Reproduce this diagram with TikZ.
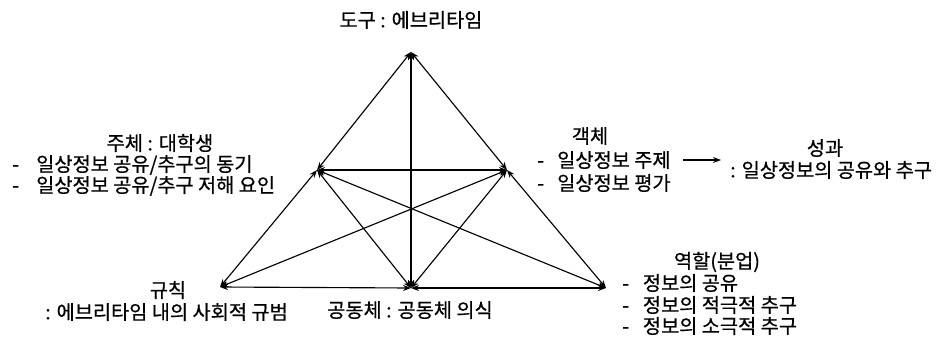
\documentclass[tikz,border=0pt]{standalone}
\usepackage{fontspec}
\setmainfont{Noto Sans CJK KR}[FakeBold=0.6]
\usetikzlibrary{arrows.meta}
\tikzset{
  lbl/.style={inner sep=0pt, font=\fontsize{14.8}{17}\selectfont},
  link/.style={{Stealth[length=6pt,width=4.5pt]}-{Stealth[length=6pt,width=4.5pt]}, line width=0.85pt},
  oneway/.style={-{Stealth[length=6pt,width=4.5pt]}, line width=0.85pt}
}
\newcommand{\dl}[2]{\makebox[#1][l]{-}#2}
\begin{document}
\begin{tikzpicture}[x=0.75pt,y=-0.75pt]
\useasboundingbox (0,0) rectangle (938,336);
% vertices
\coordinate (T) at (411,52);
\coordinate (S) at (317,170);
\coordinate (O) at (507,170);
\coordinate (R) at (220,287);
\coordinate (C) at (411,288);
\coordinate (D) at (606,288);
% connectors
\draw[link] (S) -- (T);
\draw[link] (O) -- (T);
\draw[link] (C) -- (T);
\draw[link] (S) -- (O);
\draw[link] (S) -- (R);
\draw[link] (S) -- (C);
\draw[link] (S) -- (D);
\draw[link] (O) -- (C);
\draw[link] (O) -- (D);
\draw[link] (O) -- (R);
\draw[link] (R) -- (C);
\draw[link] (C) -- (D);
% labels
\node[lbl] (tool) at (411,20) {도구 : 에브리타임};
\node[lbl] (subj) at (160,143) {주체 : 대학생};
\node[lbl,anchor=west] (subj1) at (12,165) {\dl{18pt}{일상정보 공유/추구의 동기}};
\node[lbl,anchor=west] (subj2) at (12,186) {\dl{18pt}{일상정보 공유/추구 저해 요인}};
\node[lbl] (obj) at (590,136) {객체};
\node[lbl,anchor=west] (obj1) at (537,160) {\dl{15pt}{일상정보 주제}};
\node[lbl,anchor=west] (obj2) at (537,183) {\dl{15pt}{일상정보 평가}};
\coordinate (a1) at (683,160);
\coordinate (a2) at (721,160);
\draw[oneway] (a1) -- (a2);
\node[lbl] (out) at (825,148) {성과};
\node[lbl,anchor=west] (out1) at (730,170) {: 일상정보의 공유와 추구};
\node[lbl] (rule) at (168,290) {규칙};
\node[lbl,anchor=west] (rule1) at (45,312) {: 에브리타임 내의 사회적 규범};
\node[lbl] (comm) at (410,310) {공동체 : 공동체 의식};
\node[lbl] (div) at (717,262) {역할(분업)};
\node[lbl,anchor=west] (div1) at (622,283) {\dl{15.5pt}{정보의 공유}};
\node[lbl,anchor=west] (div2) at (622,305) {\dl{15.5pt}{정보의 적극적 추구}};
\node[lbl,anchor=west] (div3) at (622,326) {\dl{15.5pt}{정보의 소극적 추구}};
\end{tikzpicture}
\end{document}
